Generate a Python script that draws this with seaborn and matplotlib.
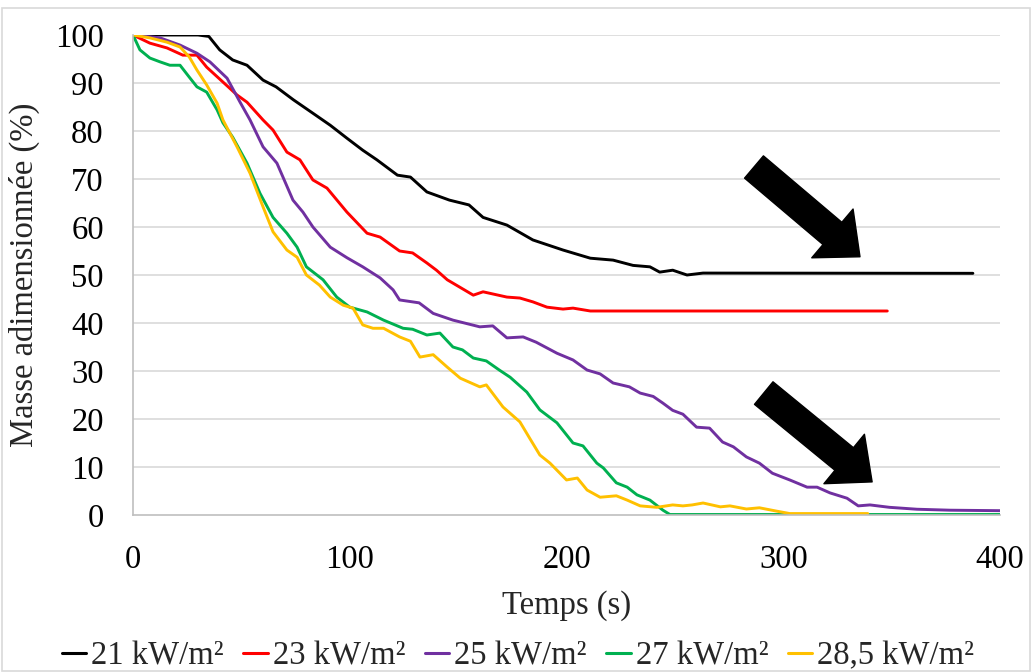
import numpy as np
import pandas as pd
import seaborn as sns
import matplotlib
matplotlib.use("Agg")
import matplotlib.pyplot as plt
from matplotlib.patches import FancyArrowPatch, Rectangle
from matplotlib.lines import Line2D

# ---------------- data ----------------
labels = ["21 kW/m²", "23 kW/m²", "25 kW/m²", "27 kW/m²", "28,5 kW/m²"]
colors = ["#000000", "#FF0000", "#7030A0", "#00B050", "#FFC000"]

t21 = [0, 30, 35, 40, 46, 52.6, 60, 66, 74, 83, 91, 98.7, 106, 112.5, 122, 128, 135.6, 146, 155,
       161.5, 172.5, 184.5, 198.4, 211, 221.5, 230.7, 238.5, 243, 249, 255.6, 263, 387.5]
m21 = [100, 100, 99.7, 96.9, 94.8, 93.7, 90.6, 89.2, 86.5, 83.7, 81.2, 78.5, 76, 74, 70.8, 70.4, 67.3,
       65.6, 64.6, 62, 60.4, 57.3, 55.2, 53.5, 53.1, 52, 51.7, 50.6, 51, 50, 50.4, 50.35]

t23 = [0, 7.8, 15.7, 23, 29.5, 34, 41.5, 48, 52.6, 60, 64.6, 71, 77, 83, 89.5, 98.7, 108, 114, 123,
       129, 135.6, 140, 145, 157, 161.5, 172.5, 178.5, 184.5, 191, 198.4, 203, 211, 348]
m23 = [100, 98.3, 97.3, 95.8, 95.8, 93.3, 90.2, 87.5, 86, 82.3, 80.2, 75.6, 74, 69.8, 68.1, 63.1, 58.7,
       57.9, 55, 54.6, 52.5, 51, 49, 45.8, 46.5, 45.4, 45.2, 44.4, 43.3, 42.9, 43.1, 42.5, 42.5]

t25 = [0, 12.5, 21.7, 29.5, 35.5, 43.4, 49.4, 54, 60, 66.4, 73.8, 78.4, 83, 91, 98.7, 106, 114, 120,
       123, 132, 138.5, 147.6, 160, 166, 172.5, 180, 186, 195.6, 203, 209.5, 215.5, 221.5, 229, 234,
       240, 244.5, 249, 253.7, 260, 266, 272, 277, 283, 289, 295, 303, 311, 315.6, 321.6, 329.4,
       334.6, 340, 349, 361.7, 377, 400]
m25 = [100, 99.4, 97.9, 96.2, 94.4, 91, 86, 82.3, 76.7, 73.3, 65.6, 63.1, 60, 55.8, 53.6, 51.7, 49.4,
       46.9, 44.8, 44.2, 42, 40.6, 39.2, 39.4, 36.9, 37.1, 36, 33.7, 32.3, 30.2, 29.4, 27.5, 26.7,
       25.4, 24.7, 23.3, 21.8, 21, 18.3, 18.1, 15.2, 14.2, 12.1, 10.8, 8.7, 7.3, 5.8, 5.8, 4.6, 3.5,
       1.9, 2.1, 1.6, 1.2, 1.0, 0.9]

t27 = [0, 3.2, 7.8, 12.5, 17, 21.7, 26, 29.5, 34, 38.8, 41.5, 46, 52.6, 58.6, 64.6, 71, 75.7, 80,
       87.7, 94, 100, 108, 115.6, 124.6, 129, 135.6, 141.6, 147.6, 152, 157, 163, 169, 174, 181.7,
       187.7, 195.6, 203, 207.6, 214, 217, 223, 228, 232.5, 238.5, 244.5, 247.7, 400]
m27 = [100, 96.9, 95.2, 94.4, 93.7, 93.7, 91.2, 89.2, 88.1, 84.4, 81.7, 78.7, 73.3, 67, 62, 58.7,
       55.8, 51.7, 49, 45.4, 43.3, 42.3, 40.6, 38.9, 38.7, 37.5, 37.9, 35, 34.4, 32.7, 32.1, 30.2,
       28.7, 25.6, 21.9, 19.2, 15, 14.4, 10.8, 9.8, 6.7, 5.8, 4.2, 3.1, 1.0, 0.1, 0.1]

t285 = [0, 7.8, 15.7, 21.7, 26, 29.5, 34, 38.8, 41.5, 48, 54, 60, 64.6, 71, 75.7, 80, 86, 91, 97,
        101.5, 106, 110.7, 115.6, 123, 128, 132.4, 138.5, 145, 151, 160, 163, 170.7, 178.5, 183,
        187.7, 192.4, 200, 205, 209.5, 215.5, 223, 228, 234, 241.7, 249, 253.7, 258, 263, 271,
        275.4, 283, 289, 297, 303, 339]
m285 = [100, 99.4, 98.5, 97.5, 95.4, 92.7, 89.6, 85.8, 82.3, 76.7, 71.2, 64.2, 59, 55.2, 53.7, 50,
        47.9, 45.4, 43.7, 43.1, 39.6, 38.9, 38.9, 37.1, 36.2, 32.9, 33.4, 30.8, 28.5, 26.7, 27.1,
        22.5, 19.4, 16, 12.5, 10.8, 7.3, 7.7, 5.2, 3.7, 4.0, 3.1, 1.9, 1.6, 2.1, 1.9, 2.1, 2.5, 1.7,
        1.9, 1.25, 1.5, 0.8, 0.3, 0.3]

x_ticks = [0, 100, 200, 300, 400]
y_ticks = [0, 10, 20, 30, 40, 50, 60, 70, 80, 90, 100]

series_t = [t21, t23, t25, t27, t285]
series_m = [m21, m23, m25, m27, m285]

frames = []
for lab, t, m in zip(labels, series_t, series_m):
    frames.append(pd.DataFrame({"Temps": t, "Masse": m, "Flux": lab}))
df = pd.concat(frames, ignore_index=True)

# ---------------- style ----------------
sns.set_theme(style="white")
plt.rcParams["font.family"] = ["Liberation Serif", "DejaVu Serif"]
FS = 23.5

fig = plt.figure(figsize=(10.36, 6.72), dpi=100)
ax = fig.add_axes([133 / 1036, 1 - 515 / 672, (1000 - 133) / 1036, (515 - 35) / 672])

fig.patches.append(Rectangle((2 / 1036, 0.002), 1 - 8 / 1036, 1 - 8 / 672 - 0.002,
                             transform=fig.transFigure, fill=False,
                             edgecolor="#D9D9D9", linewidth=1.2, zorder=0))

for y in y_ticks[1:]:
    ax.axhline(y, color="#D9D9D9", linewidth=1.2, zorder=0)

sns.lineplot(data=df, x="Temps", y="Masse", hue="Flux", hue_order=labels,
             palette=dict(zip(labels, colors)), sort=False, estimator=None,
             linewidth=2.1, ax=ax, legend=False)

ax.set_xlim(0, 400)
ax.set_ylim(0, 100)
ax.set_xticks(x_ticks)
ax.set_yticks(y_ticks)
ax.tick_params(axis="both", length=0, labelsize=FS, colors="black", pad=21)
ax.set_xlabel("Temps (s)", fontsize=FS, labelpad=11)
ax.set_ylabel("Masse adimensionnée (%)", fontsize=FS, labelpad=11)
for s in ["top", "right"]:
    ax.spines[s].set_visible(False)
for s in ["left", "bottom"]:
    ax.spines[s].set_color("#BFBFBF")
    ax.spines[s].set_linewidth(1.2)
ax.grid(False)

# arrows
style = "simple,head_length=26,head_width=46,tail_width=21"
for (xa, ya), (xb, yb) in [((286.5, 72.5), (335.4, 53.8)), ((291, 25.4), (341, 6.9))]:
    ax.add_patch(FancyArrowPatch((xa, ya), (xb, yb), arrowstyle=style, mutation_scale=1,
                                 color="black", shrinkA=0, shrinkB=0, zorder=5))

# legend
handles = [Line2D([0], [0], color=c, linewidth=2.2) for c in colors]
fig.legend(handles, labels, loc="center", bbox_to_anchor=(0.5, 1 - 656 / 672), ncol=5,
           frameon=False, fontsize=FS, handlelength=0.75, handletextpad=0.15,
           columnspacing=0.6)

fig.savefig("out.png", dpi=100)
